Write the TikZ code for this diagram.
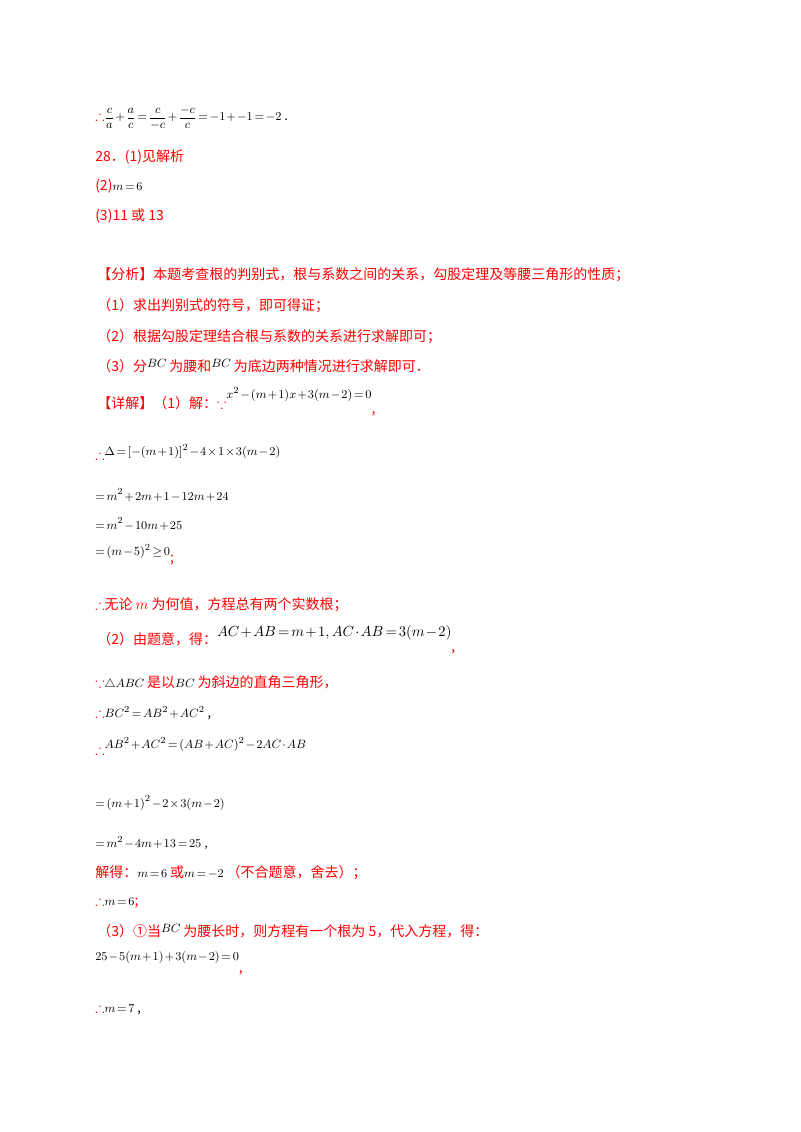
\documentclass[tikz,border=0pt]{standalone}
\usepackage{amsmath,amssymb}
\usepackage{fontspec}
\setmainfont{Liberation Serif}
\newfontfamily\cjk{Noto Sans CJK SC}
\newcommand{\bk}[1]{{\fontsize{9.5}{11}\selectfont\textcolor{black}{#1}}}
\begin{document}
\medmuskip=1.5mu plus 1mu \thickmuskip=2.5mu plus 1mu
\begin{tikzpicture}[x=0.75pt,y=-0.75pt,
  t/.style={anchor=west,inner sep=0pt,font=\fontsize{10.5}{12}\selectfont},
  r/.style={t,text=red,font=\fontsize{10.5}{12}\selectfont\cjk},
  m/.style={t,font=\fontsize{9.5}{11}\selectfont}]
\useasboundingbox (0,0) rectangle (800,1132);
\node[r] (a1) at (95,118) {$\therefore$\bk{$\dfrac{c}{a}+\dfrac{a}{c}=\dfrac{c}{-c}+\dfrac{-c}{c}=-1+-1=-2$ .}};
\node[r] (b1) at (95,157) {28．(1)见解析};
\node[r] (b2) at (95,186) {(2)\bk{$m=6$}};
\node[r] (b3) at (95,216) {(3)11 或 13};
\node[r] (c0) at (97,275) {【分析】本题考查根的判别式，根与系数之间的关系，勾股定理及等腰三角形的性质；};
\node[r] (c1) at (97,306) {（1）求出判别式的符号，即可得证；};
\node[r] (c2) at (97,337) {（2）根据勾股定理结合根与系数的关系进行求解即可；};
\node[r] (c3) at (97,366) {（3）分\raisebox{3pt}{\bk{ $BC$ }}为腰和\raisebox{3pt}{\bk{ $BC$ }}为底边两种情况进行求解即可．};
\node[r] (d0) at (97,402) {【详解】（1）解：$\because$\raisebox{7pt}{\bk{$x^2-(m+1)x+3(m-2)=0$}}\raisebox{-4pt}{,}};
\node[r] (d1) at (95,452) {\raisebox{-3pt}{$\therefore$}\bk{$\Delta=\left[-(m+1)\right]^2-4\times1\times3(m-2)$}};
\node[m] (d2) at (95,495) {$=m^2+2m+1-12m+24$};
\node[m] (d3) at (95,524) {$=m^2-10m+25$};
\node[r] (d4) at (95,555) {\bk{$=(m-5)^2\geq0$}\raisebox{-5pt}{;}};
\node[r] (e0) at (95,605) {$\therefore$无论 $m$ 为何值，方程总有两个实数根；};
\node[r] (e1) at (97,640) {（2）由题意，得：\raisebox{6pt}{\fontsize{11}{12}\selectfont\textcolor{black}{$AC+AB=m+1,AC\cdot AB=3(m-2)$}}\raisebox{-5pt}{,}};
\node[r] (f0) at (95,683) {$\because$\bk{$\triangle ABC$ }是以\bk{ $BC$ }为斜边的直角三角形，};
\node[r] (f1) at (95,713) {$\therefore$\bk{$BC^2=AB^2+AC^2$ ,}};
\node[r] (f2) at (95,746) {\raisebox{-4pt}{$\therefore$}\bk{$AB^2+AC^2=(AB+AC)^2-2AC\cdot AB$}};
\node[m] (f3) at (95,803) {$=(m+1)^2-2\times3(m-2)$};
\node[m] (f4) at (95,843) {$=m^2-4m+13=25$ ,};
\node[r] (g0) at (95,873) {解得：\bk{ $m=6$ }或\bk{ $m=-2$ }（不合题意，舍去）；};
\node[r] (g1) at (95,902) {$\therefore$\bk{$m=6$};};
\node[r] (h0) at (97,931) {（3）①当\raisebox{3pt}{\bk{ $BC$ }}为腰长时，则方程有一个根为 5，代入方程，得：};
\node[r] (h1) at (95,963) {\bk{$25-5(m+1)+3(m-2)=0$}\raisebox{-9pt}{,}};
\node[r] (h2) at (95,1009) {$\therefore$\bk{$m=7$ ,}};
\end{tikzpicture}
\end{document}
